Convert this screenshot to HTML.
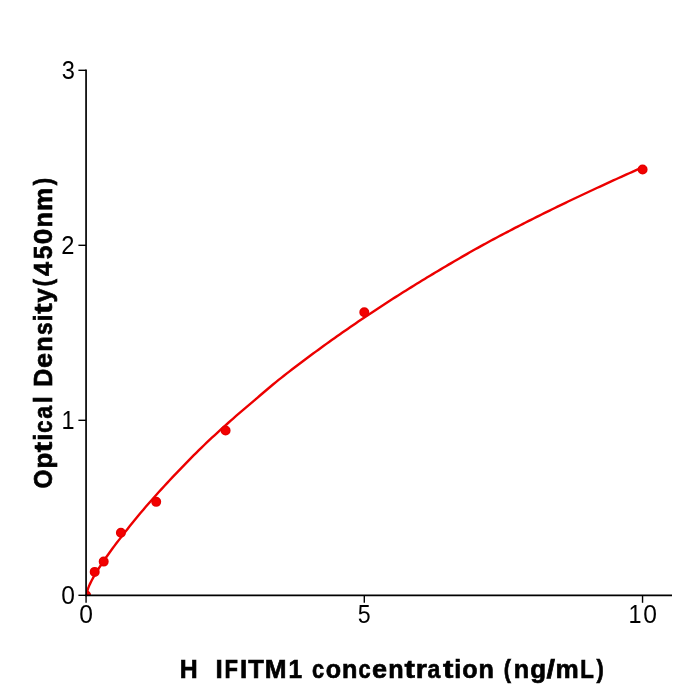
<!DOCTYPE html>
<html><head><meta charset="utf-8"><style>
html,body{margin:0;padding:0;background:#fff;}
svg{display:block;will-change:transform;}
text{font-family:"Liberation Sans",sans-serif;fill:#000;white-space:pre;}
.t{font-size:25.2px;}
.b{font-size:24.9px;font-weight:bold;stroke:#000;stroke-width:0.65px;}
</style></head><body>
<svg width="700" height="700" viewBox="0 0 700 700">
<rect width="700" height="700" fill="#fff"/>
<defs><clipPath id="c"><rect x="86.07" y="70.3" width="585.1" height="525"/></clipPath></defs>
<g clip-path="url(#c)">
<polyline points="86.07,595.30 86.78,592.50 87.50,590.24 88.21,588.20 88.92,586.32 89.64,584.63 90.35,583.12 91.06,581.69 91.78,580.31 92.49,578.98 93.20,577.68 93.92,576.42 94.63,575.19 95.34,573.98 96.06,572.80 96.77,571.64 97.48,570.49 98.20,569.35 98.91,568.22 99.62,567.11 100.34,566.00 101.05,564.90 101.76,563.82 102.48,562.75 103.19,561.69 103.90,560.64 104.62,559.59 105.33,558.56 106.05,557.53 106.76,556.51 107.47,555.49 108.19,554.47 108.90,553.47 109.61,552.47 110.33,551.48 111.04,550.49 111.75,549.51 112.47,548.54 113.18,547.58 113.89,546.62 116.55,543.09 119.21,539.63 121.86,536.21 124.52,532.83 127.17,529.47 129.83,526.12 132.49,522.80 135.14,519.52 137.80,516.28 140.46,513.09 143.11,509.94 145.77,506.82 148.43,503.74 151.08,500.70 153.74,497.69 156.40,494.71 159.05,491.76 161.71,488.84 164.36,485.95 167.02,483.09 169.68,480.25 172.33,477.44 174.99,474.63 177.65,471.84 180.30,469.06 182.96,466.30 185.62,463.56 188.27,460.83 190.93,458.13 193.59,455.45 196.24,452.80 198.90,450.17 201.55,447.56 204.21,444.99 206.87,442.45 209.52,439.95 212.18,437.47 214.84,435.01 217.49,432.57 220.15,430.15 222.81,427.75 225.46,425.36 228.12,422.99 230.77,420.63 233.43,418.30 236.09,415.97 238.74,413.67 241.40,411.37 244.06,409.10 246.71,406.84 249.37,404.59 252.03,402.34 254.68,400.08 257.34,397.81 260.00,395.53 262.65,393.25 265.31,390.98 267.96,388.72 270.62,386.47 273.28,384.26 275.93,382.07 278.59,379.93 281.25,377.82 283.90,375.73 286.56,373.66 289.22,371.59 291.87,369.54 294.53,367.51 297.19,365.48 299.84,363.47 302.50,361.47 305.15,359.48 307.81,357.49 310.47,355.52 313.12,353.56 315.78,351.61 318.44,349.67 321.09,347.74 323.75,345.81 326.41,343.90 329.06,341.99 331.72,340.09 334.38,338.20 337.03,336.33 339.69,334.45 342.34,332.59 345.00,330.74 347.66,328.90 350.31,327.06 352.97,325.23 355.63,323.41 358.28,321.60 360.94,319.80 363.60,318.01 366.25,316.22 368.91,314.45 371.57,312.68 374.22,310.92 376.88,309.17 379.53,307.42 382.19,305.69 384.85,303.96 387.50,302.24 390.16,300.53 392.82,298.83 395.47,297.13 398.13,295.44 400.79,293.76 403.44,292.09 406.10,290.42 408.76,288.76 411.41,287.11 414.07,285.46 416.72,283.82 419.38,282.19 422.04,280.57 424.69,278.95 427.35,277.34 430.01,275.73 432.66,274.13 435.32,272.54 437.98,270.95 440.63,269.37 443.29,267.79 445.94,266.22 448.60,264.65 451.26,263.09 453.91,261.53 456.57,259.98 459.23,258.43 461.88,256.90 464.54,255.36 467.20,253.84 469.85,252.33 472.51,250.82 475.17,249.32 477.82,247.84 480.48,246.36 483.13,244.90 485.79,243.44 488.45,241.99 491.10,240.55 493.76,239.12 496.42,237.70 499.07,236.28 501.73,234.87 504.39,233.47 507.04,232.08 509.70,230.69 512.36,229.31 515.01,227.94 517.67,226.57 520.32,225.21 522.98,223.86 525.64,222.51 528.29,221.16 530.95,219.83 533.61,218.49 536.26,217.16 538.92,215.83 541.58,214.51 544.23,213.19 546.89,211.88 549.55,210.57 552.20,209.26 554.86,207.96 557.51,206.66 560.17,205.37 562.83,204.09 565.48,202.80 568.14,201.53 570.80,200.26 573.45,198.99 576.11,197.73 578.77,196.47 581.42,195.22 584.08,193.97 586.74,192.72 589.39,191.48 592.05,190.24 594.70,189.00 597.36,187.77 600.02,186.54 602.67,185.32 605.33,184.09 607.99,182.87 610.64,181.66 613.30,180.44 615.96,179.23 618.61,178.03 621.27,176.83 623.93,175.63 626.58,174.43 629.24,173.24 631.89,172.05 634.55,170.86 637.21,169.67 639.86,168.49 642.52,167.31" fill="none" stroke="#ec0000" stroke-width="2.4" stroke-linejoin="round"/>
<g fill="#f30000" stroke="#e60000" stroke-width="1.6">
<circle cx="86.07" cy="595.3" r="4.2"/>
<circle cx="94.7" cy="571.9" r="4.2"/>
<circle cx="103.7" cy="561.6" r="4.2"/>
<circle cx="120.9" cy="532.8" r="4.2"/>
<circle cx="156.2" cy="501.85" r="4.2"/>
<circle cx="225.6" cy="430.5" r="4.2"/>
<circle cx="364.3" cy="312.3" r="4.2"/>
<circle cx="642.6" cy="169.5" r="4.2"/>
</g>
</g>
<g stroke="#000" fill="none">
<g stroke-width="1.7">
<line x1="86.07" y1="69.4" x2="86.07" y2="596.15"/>
<line x1="85.22" y1="595.3" x2="672" y2="595.3"/>
</g>
<g stroke-width="1.4">
<line x1="78.4" y1="70.3" x2="86.07" y2="70.3"/>
<line x1="78.4" y1="245.3" x2="86.07" y2="245.3"/>
<line x1="78.4" y1="420.3" x2="86.07" y2="420.3"/>
<line x1="78.4" y1="595.3" x2="86.07" y2="595.3"/>
<line x1="86.07" y1="595.3" x2="86.07" y2="602.8"/>
<line x1="364.3" y1="595.3" x2="364.3" y2="602.8"/>
<line x1="642.55" y1="595.3" x2="642.55" y2="602.8"/>
</g>
</g>
<text class="t" y="78.75"><tspan x="61.63" textLength="13.14" lengthAdjust="spacingAndGlyphs">3</tspan></text>
<text class="t" y="253.75"><tspan x="61.27" textLength="13.18" lengthAdjust="spacingAndGlyphs">2</tspan></text>
<text class="t" y="428.75"><tspan x="61.53" textLength="13.06" lengthAdjust="spacingAndGlyphs">1</tspan></text>
<text class="t" y="603.75"><tspan x="61.33" textLength="13.68" lengthAdjust="spacingAndGlyphs">0</tspan></text>
<text class="t" y="623.3"><tspan x="79.23" textLength="13.68" lengthAdjust="spacingAndGlyphs">0</tspan></text>
<text class="t" y="623.3"><tspan x="357.75" textLength="12.91" lengthAdjust="spacingAndGlyphs">5</tspan></text>
<text class="t" y="623.3"><tspan x="628.48" textLength="13.06" lengthAdjust="spacingAndGlyphs">1</tspan><tspan x="643.13" textLength="13.68" lengthAdjust="spacingAndGlyphs">0</tspan></text>
<text class="b" y="677.8"><tspan x="179.81" textLength="17.92" lengthAdjust="spacingAndGlyphs">H</tspan><tspan x="198.53"> </tspan><tspan x="206.65"> </tspan><tspan x="215.50" textLength="7.21" lengthAdjust="spacingAndGlyphs">I</tspan><tspan x="224.44" textLength="13.47" lengthAdjust="spacingAndGlyphs">F</tspan><tspan x="240.12" textLength="7.21" lengthAdjust="spacingAndGlyphs">I</tspan><tspan x="248.22" textLength="15.59" lengthAdjust="spacingAndGlyphs">T</tspan><tspan x="264.70" textLength="21.77" lengthAdjust="spacingAndGlyphs">M</tspan><tspan x="288.62" textLength="13.56" lengthAdjust="spacingAndGlyphs">1</tspan><tspan x="303.43"> </tspan><tspan x="312.03" textLength="12.10" lengthAdjust="spacingAndGlyphs">c</tspan><tspan x="325.73" textLength="15.33" lengthAdjust="spacingAndGlyphs">o</tspan><tspan x="342.03" textLength="15.40" lengthAdjust="spacingAndGlyphs">n</tspan><tspan x="358.50" textLength="12.10" lengthAdjust="spacingAndGlyphs">c</tspan><tspan x="372.12" textLength="15.02" lengthAdjust="spacingAndGlyphs">e</tspan><tspan x="388.29" textLength="15.40" lengthAdjust="spacingAndGlyphs">n</tspan><tspan x="404.53" textLength="10.42" lengthAdjust="spacingAndGlyphs">t</tspan><tspan x="415.83" textLength="11.15" lengthAdjust="spacingAndGlyphs">r</tspan><tspan x="427.59" textLength="12.78" lengthAdjust="spacingAndGlyphs">a</tspan><tspan x="442.93" textLength="10.42" lengthAdjust="spacingAndGlyphs">t</tspan><tspan x="454.37" textLength="6.94" lengthAdjust="spacingAndGlyphs">i</tspan><tspan x="462.18" textLength="15.33" lengthAdjust="spacingAndGlyphs">o</tspan><tspan x="478.48" textLength="15.40" lengthAdjust="spacingAndGlyphs">n</tspan><tspan x="494.47"> </tspan><tspan x="503.84" textLength="7.24" lengthAdjust="spacingAndGlyphs">(</tspan><tspan x="513.87" textLength="15.40" lengthAdjust="spacingAndGlyphs">n</tspan><tspan x="530.17" textLength="15.84" lengthAdjust="spacingAndGlyphs">g</tspan><tspan x="546.59" textLength="8.47" lengthAdjust="spacingAndGlyphs">/</tspan><tspan x="555.62" textLength="23.22" lengthAdjust="spacingAndGlyphs">m</tspan><tspan x="580.37" textLength="13.61" lengthAdjust="spacingAndGlyphs">L</tspan><tspan x="596.43" textLength="7.24" lengthAdjust="spacingAndGlyphs">)</tspan></text>
<text class="b" transform="translate(51.7,489.0) rotate(-90)" y="0"><tspan x="0.49" textLength="18.86" lengthAdjust="spacingAndGlyphs">O</tspan><tspan x="20.41" textLength="15.81" lengthAdjust="spacingAndGlyphs">p</tspan><tspan x="36.78" textLength="10.42" lengthAdjust="spacingAndGlyphs">t</tspan><tspan x="48.23" textLength="6.94" lengthAdjust="spacingAndGlyphs">i</tspan><tspan x="56.16" textLength="12.10" lengthAdjust="spacingAndGlyphs">c</tspan><tspan x="70.17" textLength="12.78" lengthAdjust="spacingAndGlyphs">a</tspan><tspan x="85.79" textLength="6.94" lengthAdjust="spacingAndGlyphs">l</tspan><tspan x="93.25"> </tspan><tspan x="102.17" textLength="18.08" lengthAdjust="spacingAndGlyphs">D</tspan><tspan x="121.01" textLength="15.02" lengthAdjust="spacingAndGlyphs">e</tspan><tspan x="137.18" textLength="15.40" lengthAdjust="spacingAndGlyphs">n</tspan><tspan x="153.90" textLength="12.66" lengthAdjust="spacingAndGlyphs">s</tspan><tspan x="167.60" textLength="6.94" lengthAdjust="spacingAndGlyphs">i</tspan><tspan x="175.31" textLength="10.42" lengthAdjust="spacingAndGlyphs">t</tspan><tspan x="186.62" textLength="14.19" lengthAdjust="spacingAndGlyphs">y</tspan><tspan x="202.66" textLength="7.24" lengthAdjust="spacingAndGlyphs">(</tspan><tspan x="213.07" textLength="13.98" lengthAdjust="spacingAndGlyphs">4</tspan><tspan x="229.68" textLength="13.59" lengthAdjust="spacingAndGlyphs">5</tspan><tspan x="244.87" textLength="15.61" lengthAdjust="spacingAndGlyphs">0</tspan><tspan x="261.40" textLength="15.40" lengthAdjust="spacingAndGlyphs">n</tspan><tspan x="277.93" textLength="23.22" lengthAdjust="spacingAndGlyphs">m</tspan><tspan x="303.87" textLength="7.24" lengthAdjust="spacingAndGlyphs">)</tspan></text>
</svg>
</body></html>
